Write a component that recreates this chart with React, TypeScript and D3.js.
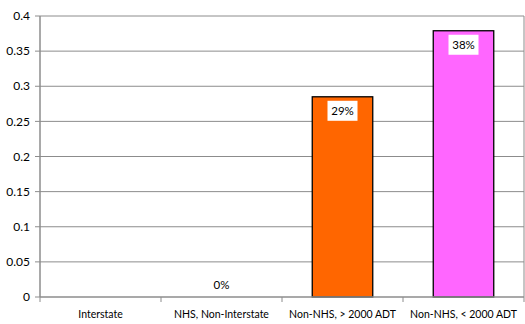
import React from "react";
import * as d3 from "d3";

const categories = ["Interstate", "NHS, Non-Interstate", "Non-NHS, > 2000 ADT", "Non-NHS, < 2000 ADT"];
const values: (number | null)[] = [null, 0, 0.285, 0.379];
const labels: (string | null)[] = [null, "0%", "29%", "38%"];
const colors = ["#ff6600", "#ff6600", "#ff6600", "#ff66ff"];
const yTicks = [0, 0.05, 0.1, 0.15, 0.2, 0.25, 0.3, 0.35, 0.4];

export default function App() {
  const W = 525, H = 324;
  const left = 40, right = 524, top = 16, bottom = 297;
  const x = d3.scaleBand<string>().domain(categories).range([left, right]).paddingInner(0).paddingOuter(0);
  const y = d3.scaleLinear().domain([0, 0.4]).range([bottom, top]);
  const bw = x.bandwidth() * 0.5;
  const font = "Lato, 'Open Sans', sans-serif";
  return (
    <svg width={W} height={H} style={{ position: "absolute", left: 0, top: 0, background: "#fff" }} fontFamily={font}>
      {yTicks.map((t) => (
        <g key={t}>
          {t > 0 && <line x1={left} x2={right} y1={y(t)} y2={y(t)} stroke="#8c8c8c" strokeWidth={1} />}
          <line x1={left - 5} x2={left} y1={y(t)} y2={y(t)} stroke="#8c8c8c" />
          <text x={30} y={y(t)} dy="0.35em" textAnchor="end" fontSize={12} fill="#000">{String(t)}</text>
        </g>
      ))}
      <line x1={right} x2={right} y1={top} y2={bottom} stroke="#8c8c8c" />
      {categories.map((c, i) => {
        const v = values[i];
        const cx = (x(c) as number) + x.bandwidth() / 2;
        return (
          <g key={c}>
            {v !== null && v > 0 && (
              <rect x={cx - bw / 2} y={y(v)} width={bw} height={y(0) - y(v)} fill={colors[i]} stroke="#000" strokeWidth={1.3} />
            )}
            {labels[i] && v !== null && (
              v > 0 ? (
                <g>
                  <rect x={cx - 15} y={y(v) + 4} width={30} height={20} fill="#fff" />
                  <text x={cx} y={y(v) + 14} dy="0.35em" textAnchor="middle" fontSize={11.5} fill="#000">{labels[i]}</text>
                </g>
              ) : (
                <text x={cx} y={285} dy="0.35em" textAnchor="middle" fontSize={11.5} fill="#000">{labels[i]}</text>
              )
            )}
            <text x={cx} y={314} dy="0.35em" textAnchor="middle" fontSize={10.5} fill="#000">{c}</text>
          </g>
        );
      })}
      {d3.range(categories.length + 1).map((i) => {
        const xx = left + i * x.bandwidth();
        return <line key={i} x1={xx} x2={xx} y1={bottom} y2={bottom + 5} stroke="#8c8c8c" />;
      })}
      <line x1={left} x2={right} y1={bottom} y2={bottom} stroke="#8c8c8c" strokeWidth={1.5} />
      <line x1={left} x2={left} y1={top} y2={bottom} stroke="#8c8c8c" strokeWidth={1.5} />
    </svg>
  );
}
